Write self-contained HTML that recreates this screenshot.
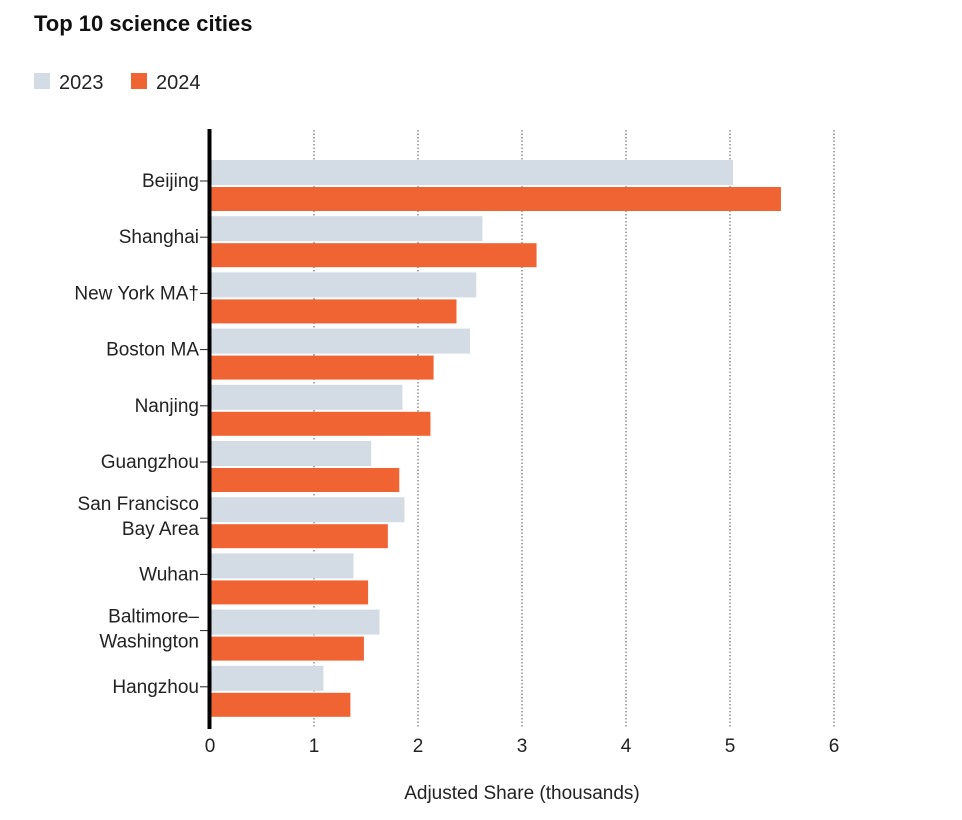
<!DOCTYPE html>
<html><head><meta charset="utf-8"><style>
body{margin:0;background:#fff;font-family:"Liberation Sans",sans-serif;}
svg text{font-family:"Liberation Sans",sans-serif;}
</style></head><body>
<svg id="chart" width="962" height="815">
<text x="34" y="31" font-size="22" font-weight="bold" fill="#111">Top 10 science cities</text>
<g>
<rect x="34" y="73" width="16" height="16" fill="#d3dbe4"/>
<text x="59" y="89" font-size="20" fill="#222">2023</text>
<rect x="131" y="73" width="16" height="16" fill="#f06433"/>
<text x="156" y="89" font-size="20" fill="#222">2024</text>
</g>
<g id="plot"></g>
<text x="522" y="799" font-size="19" fill="#222" text-anchor="middle">Adjusted Share (thousands)</text>
</svg>
<script>
const categories=[["Beijing"],["Shanghai"],["New York MA†"],["Boston MA"],["Nanjing"],["Guangzhou"],["San Francisco","Bay Area"],["Wuhan"],["Baltimore–","Washington"],["Hangzhou"]];
const values2023=[5.03,2.62,2.56,2.5,1.85,1.55,1.87,1.38,1.63,1.09];
const values2024=[5.49,3.14,2.37,2.15,2.12,1.82,1.71,1.52,1.48,1.35];
const ticks=[0,1,2,3,4,5,6];
const NS="http://www.w3.org/2000/svg";
const g=document.getElementById('plot');
const x=v=>210+v*104;
const rowY=i=>158+i*56.2;
function mk(t,a){const e=document.createElementNS(NS,t);for(const k in a)e.setAttribute(k,a[k]);g.appendChild(e);return e;}
ticks.forEach(t=>{
 if(t>0){const l=mk('line',{x1:x(t),x2:x(t),y1:130,y2:728,stroke:'#555','stroke-width':1,'stroke-dasharray':'1.5,2'});
 
 }
 const tx=mk('text',{x:x(t),y:752,'font-size':19,fill:'#222','text-anchor':'middle'});tx.textContent=t;
 
 
});
categories.forEach((c,i)=>{
 const y=rowY(i);
 const b1=mk('rect',{x:x(0),y:y+2,width:x(values2023[i])-x(0),height:25,fill:'#d3dbe4'});
 
 
 const b2=mk('rect',{x:x(0),y:y+29,width:x(values2024[i])-x(0),height:24,fill:'#f06433'});
 
 
 const cy=y+23;
 mk('line',{x1:200,x2:208,y1:cy,y2:cy,stroke:'#222','stroke-width':1});
 c.forEach((s,j)=>{
  const ty=c.length==1?cy+6:cy-8+(j*25);
  const tx=mk('text',{x:199,y:ty,'font-size':19,fill:'#222','text-anchor':'end'});tx.textContent=s;
  
  
 });
});
const ax=mk('line',{x1:209.5,x2:209.5,y1:129,y2:729,stroke:'#000','stroke-width':4});


</script>
</body></html>
